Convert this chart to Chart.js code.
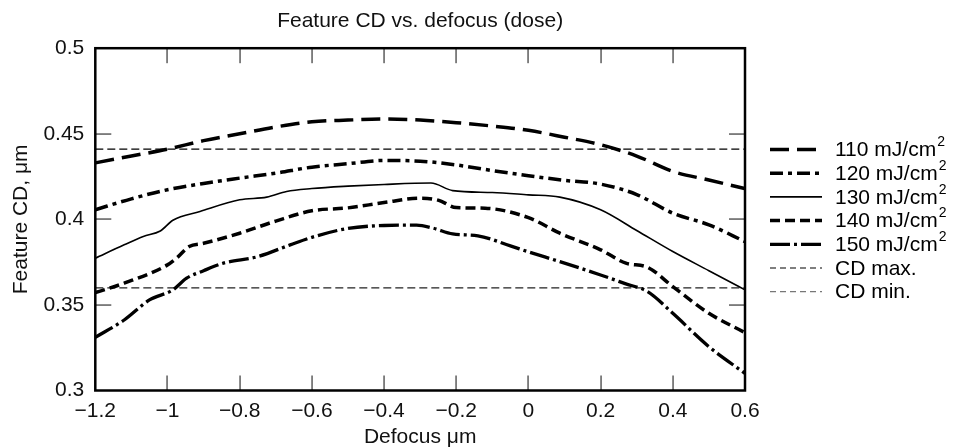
<!DOCTYPE html>
<html>
<head>
<meta charset="utf-8">
<script src="https://cdn.jsdelivr.net/npm/chart.js@4.4.1/dist/chart.umd.min.js"></script>
<style>
  html, body { margin: 0; padding: 0; background: #fff; }
</style>
</head>
<body>
<canvas id="cdChart" width="960" height="448"></canvas>
<script>
// ----- Data -----
const doses = [110, 120, 130, 140, 150];

const xs110 = [-1.2, -1.1, -1.0, -0.9, -0.8, -0.7, -0.6, -0.5, -0.4, -0.3, -0.2, -0.1, 0, 0.1, 0.2, 0.3, 0.4, 0.5, 0.6];
const cd110 = [0.433, 0.437, 0.441, 0.446, 0.450, 0.454, 0.457, 0.458, 0.4586, 0.458, 0.4565, 0.4545, 0.452, 0.448, 0.4436, 0.437, 0.428, 0.423, 0.418];

const xs120 = [-1.2, -1.1, -1.0, -0.9, -0.8, -0.7, -0.6, -0.5, -0.4, -0.3, -0.2, -0.1, 0, 0.1, 0.2, 0.3, 0.4, 0.5, 0.6];
const cd120 = [0.4056, 0.412, 0.4173, 0.421, 0.4241, 0.427, 0.4305, 0.4325, 0.4344, 0.434, 0.4318, 0.4285, 0.4255, 0.4228, 0.4206, 0.4145, 0.4036, 0.3968, 0.387];

const xs130 = [-1.2, -1.12, -1.067, -1.02, -0.985, -0.91, -0.8, -0.725, -0.67, -0.6, -0.5, -0.4, -0.27, -0.21, -0.1, 0, 0.087, 0.2, 0.3, 0.4, 0.5, 0.6];
const cd130 = [0.3773, 0.3851, 0.39, 0.3932, 0.3995, 0.4046, 0.4114, 0.413, 0.4163, 0.418, 0.4194, 0.4204, 0.4212, 0.4168, 0.4157, 0.4143, 0.413, 0.4056, 0.3935, 0.3812, 0.370, 0.3588];

const xs140 = [-1.2, -1.12, -1.0, -0.975, -0.94, -0.9, -0.8, -0.7, -0.6, -0.5, -0.4, -0.3, -0.25, -0.2, -0.12, 0, 0.087, 0.2, 0.27, 0.33, 0.4, 0.5, 0.6];
const cd140 = [0.3572, 0.3627, 0.3734, 0.3773, 0.3841, 0.386, 0.3919, 0.399, 0.405, 0.4067, 0.4098, 0.4124, 0.4112, 0.4069, 0.4065, 0.401, 0.3919, 0.3822, 0.3744, 0.372, 0.3607, 0.3451, 0.3338];

const xs150 = [-1.2, -1.12, -1.05, -0.985, -0.947, -0.9, -0.845, -0.75, -0.66, -0.6, -0.5, -0.4, -0.31, -0.265, -0.21, -0.14, -0.05, 0, 0.087, 0.2, 0.27, 0.33, 0.4, 0.5, 0.6];
const cd150 = [0.3311, 0.3412, 0.3529, 0.3588, 0.3656, 0.370, 0.3744, 0.3782, 0.3851, 0.3895, 0.3947, 0.3964, 0.3966, 0.3949, 0.3915, 0.3904, 0.3845, 0.381, 0.3753, 0.3675, 0.3623, 0.3578, 0.3451, 0.3256, 0.31];

const cdMax = 0.441;
const cdMin = 0.36;
const xRange = [-1.2, 0.6];

const xTickValues = [-1.2, -1.0, -0.8, -0.6, -0.4, -0.2, 0, 0.2, 0.4, 0.6];
const xTickLabels = ['\u22121.2', '\u22121', '\u22120.8', '\u22120.6', '\u22120.4', '\u22120.2', '0', '0.2', '0.4', '0.6'];
const yTickValues = [0.3, 0.35, 0.4, 0.45, 0.5];
const yTickLabels = ['0.3', '0.35', '0.4', '0.45', '0.5'];

const FONT = '"Liberation Sans", Arial, Helvetica, sans-serif';

const zip = (xs, ys) => xs.map((x, i) => ({ x, y: ys[i] }));

// ----- Dataset styles -----
const curves = [
  { xs: xs110, ys: cd110, width: 3.5, dash: [19, 8] },
  { xs: xs120, ys: cd120, width: 3.5, dash: [13, 5, 4, 5] },
  { xs: xs130, ys: cd130, width: 1.6, dash: [] },
  { xs: xs140, ys: cd140, width: 3.5, dash: [10, 5] },
  { xs: xs150, ys: cd150, width: 3.3, dash: [20, 4, 3, 4] }
];

const datasets = curves.map((c, i) => ({
  label: doses[i] + ' mJ/cm\u00B2',
  data: zip(c.xs, c.ys),
  borderColor: '#000',
  borderWidth: c.width,
  borderDash: c.dash,
  pointRadius: 0,
  cubicInterpolationMode: 'monotone',
  fill: false
}));

datasets.push({
  label: 'CD max.',
  data: zip(xRange, [cdMax, cdMax]),
  borderColor: '#000',
  borderWidth: 1.2,
  borderDash: [8, 4],
  pointRadius: 0
});
datasets.push({
  label: 'CD min.',
  data: zip(xRange, [cdMin, cdMin]),
  borderColor: '#222',
  borderWidth: 1.2,
  borderDash: [8, 4],
  pointRadius: 0
});

// ----- Frame with inward ticks -----
const framePlugin = {
  id: 'frame',
  afterDraw(chart) {
    const ctx = chart.ctx;
    const a = chart.chartArea;
    const xs = chart.scales.x, ys = chart.scales.y;
    ctx.save();
    ctx.fillStyle = '#444';
    xTickValues.slice(1, -1).forEach(v => {
      const px = Math.round(xs.getPixelForValue(v)) - 0.6;
      ctx.fillRect(px, a.top, 1.3, 15);
      ctx.fillRect(px, a.bottom - 15, 1.3, 15);
    });
    yTickValues.slice(1, -1).forEach(v => {
      const py = Math.round(ys.getPixelForValue(v)) - 0.6;
      ctx.fillRect(a.left, py, 16, 1.3);
      ctx.fillRect(a.right - 16, py, 16, 1.3);
    });
    ctx.setLineDash([]);
    ctx.strokeStyle = '#000';
    ctx.lineWidth = 2.5;
    ctx.strokeRect(a.left, a.top, a.right - a.left, a.bottom - a.top);
    ctx.restore();
  }
};

// ----- Legend on the right -----
const legendPlugin = {
  id: 'sideLegend',
  afterDraw(chart) {
    const { ctx } = chart;
    const x0 = chart.chartArea.right + 25, x1 = x0 + 52, tx = x1 + 13;
    const top = 149.5, step = 23.7;
    ctx.save();
    chart.data.datasets.forEach((ds, i) => {
      const yy = top + i * step;
      ctx.strokeStyle = i === 6 ? '#777' : ds.borderColor;
      ctx.lineWidth = ds.borderWidth;
      ctx.setLineDash(i >= 5 ? [6, 4] : (ds.borderDash || []));
      ctx.beginPath();
      ctx.moveTo(x0, yy);
      ctx.lineTo(x1, yy);
      ctx.stroke();

      ctx.fillStyle = '#000';
      ctx.textBaseline = 'middle';
      ctx.font = '21px ' + FONT;
      let text = ds.label;
      const sup = text.endsWith('\u00B2');
      if (sup) text = text.slice(0, -1);
      ctx.fillText(text, tx, yy + 1);
      if (sup) {
        const w = ctx.measureText(text).width;
        ctx.font = '14px ' + FONT;
        ctx.fillText('2', tx + w + 1, yy - 7);
      }
    });
    ctx.restore();
  }
};

new Chart(document.getElementById('cdChart'), {
  type: 'line',
  data: { datasets },
  options: {
    responsive: false,
    animation: false,
    layout: { padding: { left: 0, right: 215, top: 0, bottom: 0 } },
    plugins: {
      legend: { display: false },
      tooltip: { enabled: false },
      title: {
        display: true,
        text: 'Feature CD vs. defocus (dose)',
        fullSize: false,
        color: '#111',
        font: { family: FONT, size: 21, weight: 'normal' },
        padding: { top: 9, bottom: 14 }
      }
    },
    scales: {
      x: {
        type: 'linear',
        min: xRange[0],
        max: xRange[1],
        afterBuildTicks: s => { s.ticks = xTickValues.map(v => ({ value: v })); },
        afterFit: s => { s.height = 57.5; },
        grid: { display: false, drawTicks: false },
        border: { display: false },
        ticks: {
          autoSkip: false,
          maxRotation: 0,
          padding: 8,
          color: '#111',
          font: { family: FONT, size: 21 },
          callback: (v, i) => xTickLabels[i]
        },
        title: {
          display: true,
          text: 'Defocus \u03BCm',
          color: '#111',
          font: { family: FONT, size: 21 },
          padding: { top: 0, bottom: -2 }
        }
      },
      y: {
        min: 0.3,
        max: 0.5,
        afterBuildTicks: s => { s.ticks = yTickValues.map(v => ({ value: v })); },
        afterFit: s => { s.width = 95.3; },
        grid: { display: false, drawTicks: false },
        border: { display: false },
        ticks: {
          padding: 11,
          color: '#111',
          font: { family: FONT, size: 21 },
          callback: (v, i) => yTickLabels[i]
        },
        title: {
          display: true,
          text: 'Feature CD, \u03BCm',
          color: '#111',
          font: { family: FONT, size: 21 },
          padding: { top: 9, bottom: 0 }
        }
      }
    }
  },
  plugins: [framePlugin, legendPlugin]
});
</script>
</body>
</html>
